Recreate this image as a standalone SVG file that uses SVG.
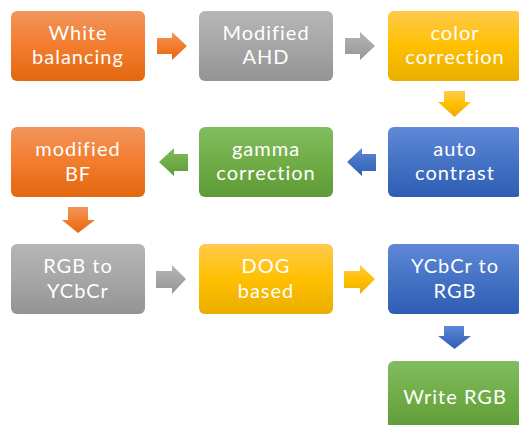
<svg xmlns="http://www.w3.org/2000/svg" width="519" height="425" viewBox="0 0 519 425">
  <defs>
    <linearGradient id="gO" x1="0" y1="0" x2="0" y2="1">
      <stop offset="0" stop-color="#F2955C"/><stop offset="0.5" stop-color="#F37C2E"/><stop offset="1" stop-color="#E1680F"/>
    </linearGradient>
    <linearGradient id="gG" x1="0" y1="0" x2="0" y2="1">
      <stop offset="0" stop-color="#B6B6B6"/><stop offset="0.5" stop-color="#A6A6A6"/><stop offset="1" stop-color="#949494"/>
    </linearGradient>
    <linearGradient id="gY" x1="0" y1="0" x2="0" y2="1">
      <stop offset="0" stop-color="#FFCA4C"/><stop offset="0.5" stop-color="#FFC000"/><stop offset="1" stop-color="#EAAE00"/>
    </linearGradient>
    <linearGradient id="gB" x1="0" y1="0" x2="0" y2="1">
      <stop offset="0" stop-color="#5F89D8"/><stop offset="0.5" stop-color="#4472C4"/><stop offset="1" stop-color="#2F5DB4"/>
    </linearGradient>
    <linearGradient id="gN" x1="0" y1="0" x2="0" y2="1">
      <stop offset="0" stop-color="#81BD5F"/><stop offset="0.5" stop-color="#70AD47"/><stop offset="1" stop-color="#5E9B36"/>
    </linearGradient>
  </defs>
  <style>
    .box { stroke: none; }
    .t { font-family: Lato, "Liberation Sans", sans-serif; font-size: 20px; fill: #FFFFFF; text-anchor: middle; letter-spacing: 1px; }
  </style>
  <rect width="519" height="425" fill="#FFFFFF"/>

  <g id="connectors">
    <polygon fill="url(#gO)" points="157,38 172,38 172,32 187,46 172,60 172,54 157,54"/>
    <polygon fill="url(#gG)" points="345,38 360,38 360,32 375,46 360,60 360,54 345,54"/>
    <polygon fill="url(#gY)" points="444,91 465,91 465,102 471,102 454.5,117 438,102 444,102"/>
    <polygon fill="url(#gB)" points="376,154 362,154 362,148 347,162 362,176 362,171 376,171"/>
    <polygon fill="url(#gN)" points="188,154 174,154 174,148 159,162 174,176 174,171 188,171"/>
    <polygon fill="url(#gO)" points="68,207 88,207 88,220 95,220 78,233 62,220 68,220"/>
    <polygon fill="url(#gG)" points="156,271 172,271 172,265 186,279 172,294 172,288 156,288"/>
    <polygon fill="url(#gY)" points="344,271 360,271 360,265 375,279 360,294 360,288 344,288"/>
    <polygon fill="url(#gB)" points="444,326 464,326 464,336 471,336 454.5,349 438,336 444,336"/>
  </g>

  <g id="n1"><rect class="box" x="11" y="11" width="134" height="70" rx="6" fill="url(#gO)"/>
    <text class="t" x="78" y="39.5">White</text><text class="t" x="78" y="64">balancing</text></g>
  <g id="n2"><rect class="box" x="199" y="11" width="134" height="70" rx="6" fill="url(#gG)"/>
    <text class="t" x="266" y="39.5">Modified</text><text class="t" x="266" y="64">AHD</text></g>
  <g id="n3"><rect class="box" x="388" y="11" width="134" height="70" rx="6" fill="url(#gY)"/>
    <text class="t" x="455" y="39.5">color</text><text class="t" x="455" y="64">correction</text></g>
  <g id="n4"><rect class="box" x="388" y="127" width="134" height="70" rx="6" fill="url(#gB)"/>
    <text class="t" x="455" y="155.5">auto</text><text class="t" x="455" y="180">contrast</text></g>
  <g id="n5"><rect class="box" x="199" y="127" width="134" height="70" rx="6" fill="url(#gN)"/>
    <text class="t" x="266" y="155.5">gamma</text><text class="t" x="266" y="180">correction</text></g>
  <g id="n6"><rect class="box" x="11" y="127" width="134" height="70" rx="6" fill="url(#gO)"/>
    <text class="t" x="78" y="155.5">modified</text><text class="t" x="78" y="180.5">BF</text></g>
  <g id="n7"><rect class="box" x="11" y="244" width="134" height="70" rx="6" fill="url(#gG)"/>
    <text class="t" x="78" y="272.5">RGB to</text><text class="t" x="78" y="297.5">YCbCr</text></g>
  <g id="n8"><rect class="box" x="199" y="244" width="134" height="70" rx="6" fill="url(#gY)"/>
    <text class="t" x="266" y="272.5">DOG</text><text class="t" x="266" y="297.5">based</text></g>
  <g id="n9"><rect class="box" x="388" y="244" width="134" height="70" rx="6" fill="url(#gB)"/>
    <text class="t" x="455" y="272.5">YCbCr to</text><text class="t" x="455" y="297.5">RGB</text></g>
  <g id="n10"><rect class="box" x="388" y="361" width="134" height="70" rx="6" fill="url(#gN)"/>
    <text class="t" x="455" y="404">Write RGB</text></g>
</svg>
